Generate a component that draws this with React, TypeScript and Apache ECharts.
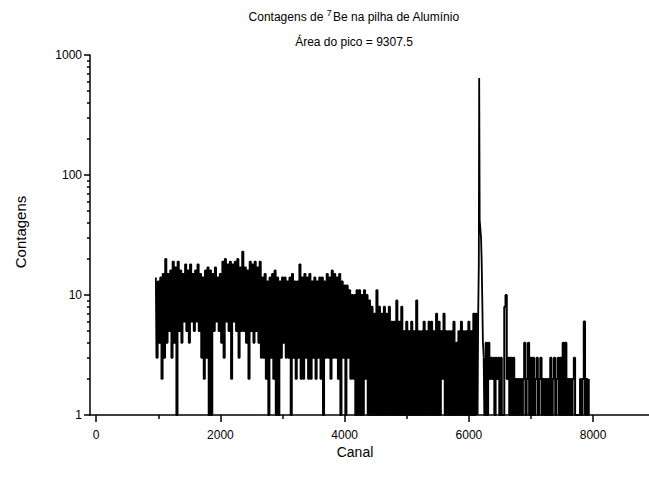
import React, { useEffect, useRef } from "react";
import * as echarts from "echarts";

// Spectrum read as counts per channel, sampled every CHANNEL_STEP channels.
const CHANNEL_STEP = 20;

// Continuum from channel 960 to 4020
const CONTINUUM_START = 960;
const continuumCounts = [
  14, 3, 13, 4, 14, 2, 15, 3, 20, 4, 15, 5, 16, 3, 19, 4, 17, 1, 19, 5,
  16, 4, 15, 6, 18, 5, 16, 4, 18, 6, 15, 5, 16, 6, 18, 5, 15, 3, 14, 2,
  16, 3, 17, 1, 16, 1, 15, 5, 17, 6, 14, 5, 15, 4, 19, 3, 20, 6, 18, 5,
  19, 2, 18, 6, 19, 5, 20, 3, 17, 5, 23, 5, 17, 4, 16, 2, 19, 5, 18, 4,
  19, 5, 17, 4, 19, 3, 14, 3, 15, 2, 13, 1, 14, 3, 15, 2, 16, 1, 14, 1,
  13, 3, 14, 4, 14, 3, 13, 3, 14, 1, 15, 3, 13, 2, 13, 3, 18, 2, 14, 2,
  15, 3, 14, 2, 15, 2, 13, 3, 14, 2, 13, 3, 14, 2, 14, 1, 13, 3, 15, 3,
  14, 2, 16, 3, 15, 3, 14, 2, 15, 1, 13, 3, 12, 1,
];

// Falling plateau from channel 4040 to 6140
const PLATEAU_START = 4040;
const plateauCounts = [
  12, 3, 11, 2, 10, 2, 10, 1, 11, 1, 11, 1, 10, 1, 11, 2, 10, 1, 9, 1,
  8, 1, 7, 1, 11, 1, 8, 1, 7, 1, 8, 1, 7, 1, 8, 1, 6, 1, 6, 1,
  9, 1, 6, 1, 8, 1, 5, 1, 6, 1, 5, 1, 6, 1, 5, 1, 9, 1, 5, 1,
  5, 1, 6, 1, 5, 1, 6, 1, 6, 1, 5, 1, 7, 1, 6, 1, 5, 2, 7, 1,
  5, 1, 5, 1, 5, 1, 6, 1, 4, 1, 5, 1, 6, 1, 5, 1, 5, 1, 6, 1,
  5, 1, 7, 1, 7, 1,
];

// 7Be photopeak
const peakChannels = [6150, 6160, 6166, 6174, 6186, 6196, 6206, 6216, 6226];
const peakCounts = [7, 18, 643, 42, 35, 30, 19, 9, 4];

// High-channel tail from 6240 to 7940
const TAIL_START = 6240;
const tailCounts = [
  3, 1, 4, 1, 4, 2, 3, 2, 3, 1, 3, 2, 3, 1, 3, 1, 1, 8, 10, 2,
  3, 1, 3, 1, 3, 1, 2, 1, 2, 1, 2, 1, 2, 4, 1, 2, 4, 1, 3, 1,
  3, 1, 2, 3, 1, 2, 3, 1, 2, 1, 2, 1, 2, 1, 3, 1, 2, 3, 1, 2,
  3, 1, 3, 1, 4, 1, 4, 1, 2, 1, 2, 1, 2, 3, 1, 1, 1, 1, 2, 1,
  2, 6, 1, 2, 1, 2,
];

const xTickValues = [0, 2000, 4000, 6000, 8000];
const xMinorTickValues = [1000, 3000, 5000, 7000];
const yTickValues = [1, 10, 100, 1000];
const yMinorTickValues = [
  2, 3, 4, 5, 6, 7, 8, 9, 20, 30, 40, 50, 60, 70, 80, 90, 200, 300, 400, 500,
  600, 700, 800, 900,
];

const FONT = '"Liberation Sans", Arial, Helvetica, sans-serif';

type Pt = [number, number];

const sampled = (start: number, counts: number[]): Pt[] =>
  counts.map((c, i) => [start + i * CHANNEL_STEP, c] as Pt);

export default function App() {
  const ref = useRef<HTMLDivElement>(null);

  useEffect(() => {
    if (!ref.current) return;
    const chart = echarts.init(ref.current, null, { renderer: "svg" });
    const tickStyle = { color: "#000", width: 1.5 };

    const lowSide: Pt[] = [
      ...sampled(CONTINUUM_START, continuumCounts),
      ...sampled(PLATEAU_START, plateauCounts),
    ];
    const tail: Pt[] = sampled(TAIL_START, tailCounts);
    // the peak joins the last plateau sample to the first tail sample
    const peak: Pt[] = [
      lowSide[lowSide.length - 1],
      ...peakChannels.map((ch, i) => [ch, peakCounts[i]] as Pt),
      tail[0],
    ];

    const trace = (data: Pt[], step: false | "middle", width: number) => ({
      type: "line",
      xAxisIndex: 0,
      yAxisIndex: 0,
      data,
      step,
      symbol: "none",
      showSymbol: false,
      silent: true,
      clip: true,
      lineStyle: { color: "#000", width },
    });

    chart.setOption({
      animation: false,
      backgroundColor: "#fff",
      grid: { left: 90, top: 55, width: 560, height: 360 },
      xAxis: [
        {
          type: "value",
          min: -100,
          max: 8900,
          position: "bottom",
          axisLine: { show: true, onZero: false, lineStyle: tickStyle },
          axisTick: { show: true, inside: false, length: 7, customValues: xTickValues, lineStyle: tickStyle },
          axisLabel: {
            show: true,
            customValues: xTickValues,
            formatter: (v: number) => String(Math.round(v)),
            margin: 14,
            color: "#000",
            fontSize: 12,
            fontFamily: FONT,
          },
          splitLine: { show: false },
        },
        {
          type: "value",
          min: -100,
          max: 8900,
          position: "bottom",
          axisLine: { show: false, onZero: false },
          axisTick: { show: true, inside: false, length: 4, customValues: xMinorTickValues, lineStyle: tickStyle },
          axisLabel: { show: false },
          splitLine: { show: false },
        },
      ],
      yAxis: [
        {
          type: "log",
          logBase: 10,
          min: 1,
          max: 1000,
          position: "left",
          axisLine: { show: true, onZero: false, lineStyle: tickStyle },
          axisTick: { show: true, inside: false, length: 6, customValues: yTickValues, lineStyle: tickStyle },
          axisLabel: {
            show: true,
            customValues: yTickValues,
            formatter: (v: number) => String(Math.round(v)),
            margin: 8,
            color: "#000",
            fontSize: 12,
            fontFamily: FONT,
          },
          splitLine: { show: false },
          minorTick: { show: false },
        },
        {
          type: "log",
          logBase: 10,
          min: 1,
          max: 1000,
          position: "left",
          axisLine: { show: false, onZero: false },
          axisTick: { show: true, inside: false, length: 3, customValues: yMinorTickValues, lineStyle: tickStyle },
          axisLabel: { show: false },
          splitLine: { show: false },
        },
      ],
      graphic: [
        {
          type: "text",
          x: 354,
          y: 17,
          style: {
            text: "Contagens de {sup|7}Be na pilha de Alumínio",
            font: `12px ${FONT}`,
            fill: "#000",
            align: "center",
            verticalAlign: "middle",
            lineHeight: 17,
            rich: { sup: { fontSize: 9, fontFamily: FONT, verticalAlign: "top", lineHeight: 9, padding: [0, 1, 0, 0] } },
          },
        },
        {
          type: "text",
          x: 354,
          y: 42,
          style: {
            text: "Área do pico = 9307.5",
            font: `12px ${FONT}`,
            fill: "#000",
            align: "center",
            verticalAlign: "middle",
          },
        },
        {
          type: "text",
          x: 20,
          y: 232,
          rotation: Math.PI / 2,
          style: {
            text: "Contagens",
            font: `15px ${FONT}`,
            fill: "#000",
            align: "center",
            verticalAlign: "middle",
          },
        },
        {
          type: "text",
          x: 355,
          y: 452,
          style: {
            text: "Canal",
            font: `14px ${FONT}`,
            fill: "#000",
            align: "center",
            verticalAlign: "middle",
          },
        },
      ],
      series: [
        trace(lowSide, "middle", 1.8),
        trace(peak, false, 1.8),
        trace(tail, "middle", 2),
      ],
    });

    return () => chart.dispose();
  }, []);

  return (
    <div
      ref={ref}
      style={{ position: "fixed", left: 0, top: 0, width: 649, height: 477, background: "#fff" }}
    />
  );
}
